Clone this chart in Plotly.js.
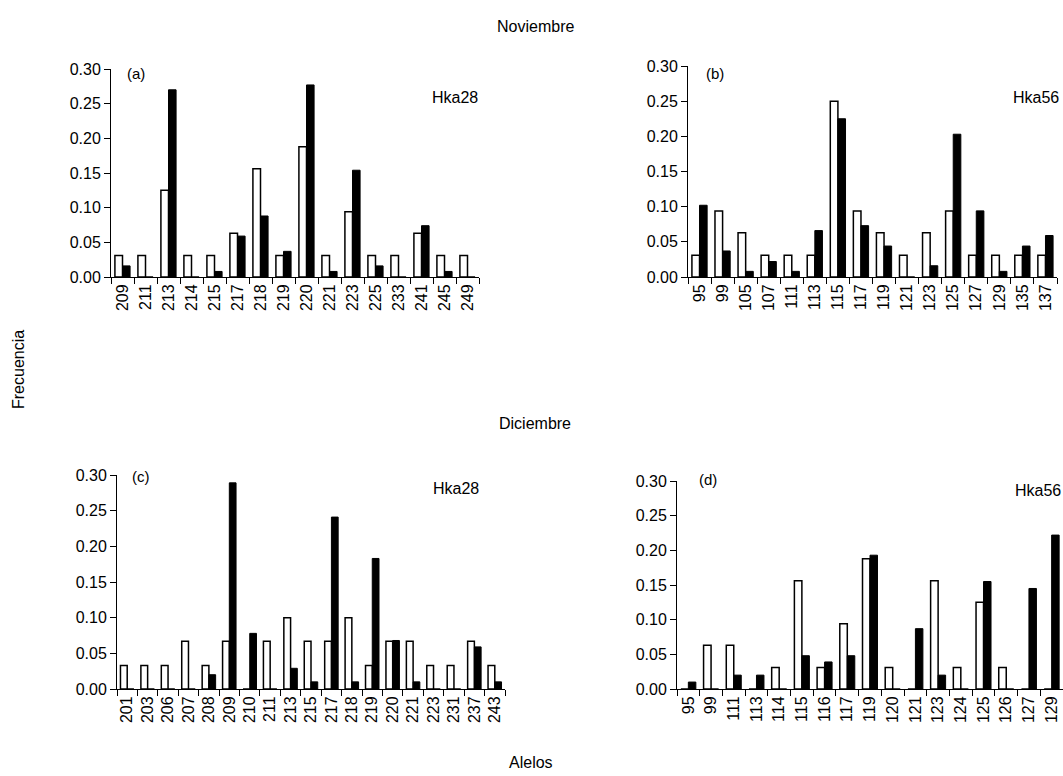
<!DOCTYPE html>
<html>
<head>
<meta charset="utf-8">
<script src="https://cdn.plot.ly/plotly-3.0.1.min.js"></script>
<style>
html,body{margin:0;padding:0;background:#fff;}
#chart{width:1063px;height:776px;}
</style>
</head>
<body>
<div id="chart"></div>
<script>
// ---- Data ----
// (a) Noviembre, Hka28
const allelesA = ["209","211","213","214","215","217","218","219","220","221","223","225","233","241","245","249"];
const whiteA = [0.031,0.031,0.125,0.031,0.031,0.063,0.156,0.031,0.188,0.031,0.094,0.031,0.031,0.063,0.031,0.031];
const blackA = [0.016,0,0.270,0,0.008,0.059,0.088,0.037,0.277,0.008,0.154,0.016,0,0.074,0.008,0];

// (b) Noviembre, Hka56
const allelesB = ["95","99","105","107","111","113","115","117","119","121","123","125","127","129","135","137"];
const whiteB = [0.031,0.094,0.063,0.031,0.031,0.031,0.250,0.094,0.063,0.031,0.063,0.094,0.031,0.031,0.031,0.031];
const blackB = [0.102,0.037,0.008,0.022,0.008,0.066,0.225,0.073,0.044,0,0.016,0.203,0.094,0.008,0.044,0.059];

// (c) Diciembre, Hka28
const allelesC = ["201","203","206","207","208","209","210","211","213","215","217","218","219","220","221","223","231","237","243"];
const whiteC = [0.033,0.033,0.033,0.067,0.033,0.067,0,0.067,0.100,0.067,0.067,0.100,0.033,0.067,0.067,0.033,0.033,0.067,0.033];
const blackC = [0,0,0,0,0.020,0.289,0.078,0,0.029,0.010,0.241,0.010,0.183,0.068,0.010,0,0,0.059,0.010];

// (d) Diciembre, Hka56
const allelesD = ["95","99","111","113","114","115","116","117","119","120","121","123","124","125","126","127","129"];
const whiteD = [0,0.063,0.063,0,0.031,0.156,0.031,0.094,0.188,0.031,0,0.156,0.031,0.125,0.031,0,0];
const blackD = [0.010,0,0.020,0.020,0,0.048,0.039,0.048,0.193,0,0.087,0.020,0,0.155,0,0.145,0.222];

const panelLabels = ["(a)","(b)","(c)","(d)"];
const locusLabels = ["Hka28","Hka56","Hka28","Hka56"];
const yTicks = [0,0.05,0.10,0.15,0.20,0.25,0.30];

// ---- Layout helpers ----
const W = 1063, H = 776;
const px = x => x / W;
const py = y => 1 - y / H;
const FONT = "Liberation Sans, Arial, sans-serif";

// panel pixel boxes [left, right, top(0.30), bottom(0)]
const boxes = [
  [111, 479, 69, 277],
  [688, 1057, 66, 277],
  [117, 505, 475, 689],
  [677, 1063, 481, 689]
];

const sets = [
  [allelesA, whiteA, blackA],
  [allelesB, whiteB, blackB],
  [allelesC, whiteC, blackC],
  [allelesD, whiteD, blackD]
];

const traces = [];
const layout = {
  width: W, height: H,
  margin: {l:0, r:0, t:0, b:0},
  paper_bgcolor: "#fff", plot_bgcolor: "rgba(0,0,0,0)",
  showlegend: false,
  barmode: "group",
  bargap: 0.34,
  bargroupgap: 0,
  font: {family: FONT, size: 16, color: "#000"},
  annotations: []
};

sets.forEach((s, i) => {
  const n = i + 1;
  const xa = n === 1 ? "x" : "x" + n;
  const ya = n === 1 ? "y" : "y" + n;
  traces.push({
    type: "bar", x: s[0], y: s[1], xaxis: xa, yaxis: ya,
    marker: {color: "#fff", line: {color: "#000", width: 1.5}},
    hoverinfo: "x+y"
  });
  traces.push({
    type: "bar", x: s[0], y: s[2], xaxis: xa, yaxis: ya,
    marker: {color: "#000", line: {color: "#000", width: 1}},
    hoverinfo: "x+y"
  });
  const b = boxes[i];
  const xkey = n === 1 ? "xaxis" : "xaxis" + n;
  const ykey = n === 1 ? "yaxis" : "yaxis" + n;
  layout[xkey] = {
    domain: [px(b[0]), px(b[1])],
    anchor: ya,
    type: "category",
    categoryorder: "array", categoryarray: s[0],
    tickson: "boundaries",
    ticks: "outside", ticklen: 6, tickcolor: "#000", tickwidth: 1,
    tickangle: -90,
    showline: true, linecolor: "#000", linewidth: 1,
    showgrid: false, zeroline: false,
    tickfont: {family: FONT, size: 16, color: "#000"},
    fixedrange: true
  };
  layout[ykey] = {
    domain: [py(b[3]), py(b[2])],
    anchor: xa,
    range: [0, 0.30],
    tickvals: yTicks,
    tickformat: ".2f",
    ticks: "outside", ticklen: 6, tickcolor: "#000", tickwidth: 1,
    showline: true, linecolor: "#000", linewidth: 1,
    showgrid: false, zeroline: false,
    tickfont: {family: FONT, size: 16, color: "#000"},
    fixedrange: true
  };
});

// panel letters and locus names
const letterPos = [[125, 73], [704, 73], [130, 476], [697, 479]];
const locusPos = [[480, 97], [1061, 97], [481, 488], [1063, 490]];
letterPos.forEach((p, i) => {
  layout.annotations.push({
    xref: "paper", yref: "paper", x: px(p[0]), y: py(p[1]),
    xanchor: "left", yanchor: "middle", showarrow: false,
    text: panelLabels[i], font: {family: FONT, size: 15, color: "#000"}
  });
});
locusPos.forEach((p, i) => {
  layout.annotations.push({
    xref: "paper", yref: "paper", x: px(p[0]), y: py(p[1]),
    xanchor: "right", yanchor: "middle", showarrow: false,
    text: locusLabels[i], font: {family: FONT, size: 16, color: "#000"}
  });
});

// section titles and axis titles
const headers = [
  {text: "Noviembre", x: 535, y: 27, angle: 0},
  {text: "Diciembre", x: 535, y: 424, angle: 0},
  {text: "Alelos", x: 531, y: 762, angle: 0},
  {text: "Frecuencia", x: 18, y: 370, angle: -90}
];
headers.forEach(h => {
  layout.annotations.push({
    xref: "paper", yref: "paper", x: px(h.x), y: py(h.y),
    xanchor: "center", yanchor: "middle", showarrow: false,
    textangle: h.angle,
    text: h.text, font: {family: FONT, size: 16, color: "#000"}
  });
});

Plotly.newPlot("chart", traces, layout, {staticPlot: true, displayModeBar: false});
</script>
</body>
</html>
